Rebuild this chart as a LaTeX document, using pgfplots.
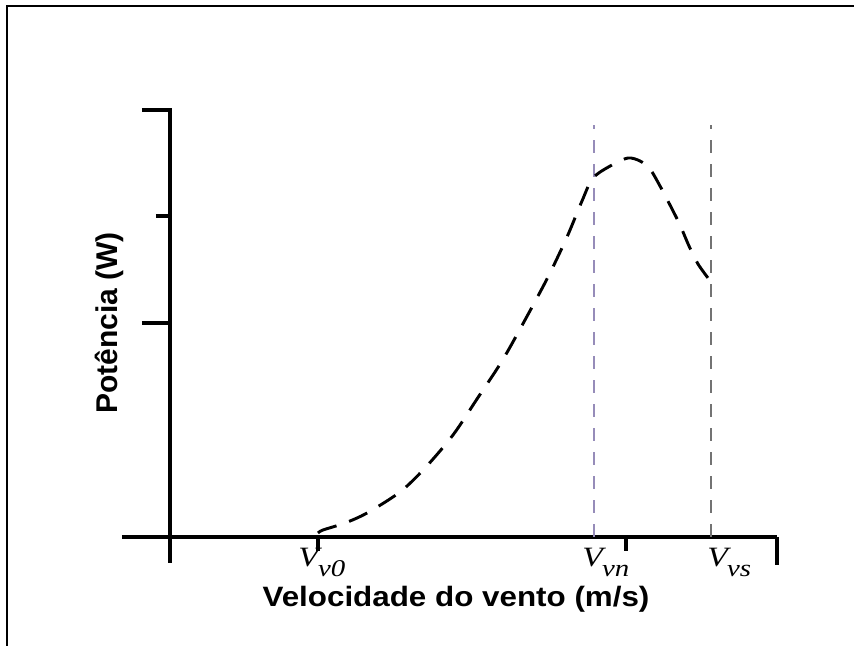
\documentclass[border=0pt]{standalone}
\usepackage{fontspec}
\setmainfont{Liberation Sans}
\newfontfamily\tms{Liberation Serif}
\usepackage{pgfplots}
\pgfplotsset{compat=1.18}

\newcommand{\vlab}[1]{{\tms\itshape\fontsize{21}{21}\selectfont V\kern-0.5pt\raisebox{-7.5pt}{\fontsize{18}{18}\selectfont #1}}}

\begin{document}
\begin{tikzpicture}
\begin{axis}[
    x=0.75pt, y=0.75pt,
    axis lines=middle,
    axis line style={-, line width=2.6pt, black},
    xmin=-48, xmax=607,
    ymin=-26, ymax=429,
    xtick={607}, xticklabels={},
    ytick={214,427}, yticklabels={},
    extra x ticks={148,456}, extra x tick labels={},
    extra y ticks={321}, extra y tick labels={},
    tick align=outside,
    major tick length=21pt,
    extra tick style={major tick length=10.5pt},
    tick style={line width=2.6pt, black},
    minor tick num=0,
    clip=false,
]
% linhas tracejadas verticais (V_vn e V_vs)
\addplot[line width=1.4pt, color={rgb,255:red,150;green,140;blue,185}, dash pattern=on 10pt off 8pt]
    coordinates {(424,0) (424,412)};
\addplot[line width=1.4pt, color=black!55, dash pattern=on 10pt off 8pt]
    coordinates {(541,0) (541,412)};

% curva de potencia
\addplot[line width=2.2pt, black, smooth, dash pattern=on 15pt off 10pt]
    coordinates {
    (148,4) (153,7) (175,14) (197,24) (230,45) (255,69) (283,102)
    (307,138) (332,176) (355,217) (378,260) (397,300) (412,336)
    (423,359) (442,372) (458,379) (470,376) (480,368) (490,351)
    (500,332) (510,312) (519,291) (528,273) (541,255)
    };

\node[anchor=base west, inner sep=0pt, xscale=1.2] at (axis cs:128,-30) {\vlab{v0}};
\node[anchor=base west, inner sep=0pt, xscale=1.2] at (axis cs:412,-30) {\vlab{vn}};
\node[anchor=base west, inner sep=0pt, xscale=1.2] at (axis cs:537,-30) {\vlab{vs}};

\node[anchor=base, inner sep=0pt, xscale=1.12, font=\bfseries\fontsize{21}{24}\selectfont] at (axis cs:286,-70) {Velocidade do vento (m/s)};
\node[font=\bfseries\fontsize{22.5}{26}\selectfont, rotate=90] at (axis cs:-61,214) {Potência (W)};

\coordinate (O) at (axis cs:-170,537);
\coordinate (E) at (axis cs:684,-109);
\coordinate (FL) at (axis cs:-163,-109);
\coordinate (FT) at (axis cs:-163,531);
\coordinate (FR) at (axis cs:684,531);
\end{axis}
\draw[line width=1.3pt, black] (FL) -- (FT) -- (FR);
\pgfresetboundingbox
\path[use as bounding box] (O) rectangle (E);
\end{tikzpicture}
\end{document}
